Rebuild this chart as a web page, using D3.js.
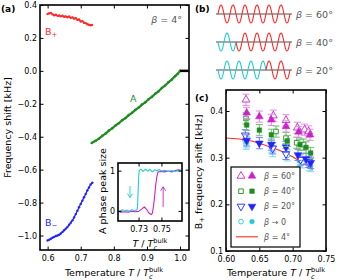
<!DOCTYPE html>
<html>
<head>
<meta charset="utf-8">
<script src="https://cdn.jsdelivr.net/npm/d3@7"></script>
<style>
  body { margin: 0; background: #fff; }
  text { font-family: "DejaVu Sans", sans-serif; }
</style>
</head>
<body>
<svg id="fig" width="338" height="280"></svg>
<script>
// ---- panel (a) data ----
const bPlusT = [0.600,0.605,0.610,0.615,0.620,0.625,0.630,0.635,0.640,0.645,0.650,0.655,0.660,0.665,0.670,0.675,0.680,0.685,0.690,0.695,0.700,0.705,0.710,0.715,0.720,0.725,0.730,0.734];
const bPlusV = [0.345,0.350,0.352,0.343,0.338,0.341,0.334,0.336,0.331,0.335,0.329,0.331,0.326,0.330,0.322,0.325,0.317,0.320,0.310,0.312,0.300,0.302,0.292,0.290,0.283,0.280,0.277,0.279];
const bMinusT = [0.600,0.605,0.610,0.615,0.620,0.625,0.630,0.635,0.640,0.645,0.650,0.655,0.660,0.665,0.670,0.675,0.680,0.685,0.690,0.695,0.700,0.705,0.710,0.715,0.720,0.725,0.730,0.735];
const bMinusV = [-1.030,-1.025,-1.020,-1.013,-1.008,-1.003,-1.000,-0.995,-0.988,-0.978,-0.968,-0.958,-0.948,-0.935,-0.922,-0.908,-0.890,-0.870,-0.850,-0.828,-0.808,-0.788,-0.768,-0.748,-0.726,-0.708,-0.690,-0.680];
const aPhaseT = [0.733,0.745,0.755,0.765,0.775,0.785,0.795,0.805,0.815,0.825,0.835,0.845,0.855,0.865,0.875,0.885,0.895,0.905,0.915,0.925,0.935,0.945,0.955,0.965,0.975,0.985,0.993,1.000];
const aPhaseV = [-0.438,-0.425,-0.412,-0.395,-0.381,-0.363,-0.349,-0.332,-0.318,-0.300,-0.287,-0.269,-0.255,-0.237,-0.223,-0.205,-0.191,-0.172,-0.158,-0.139,-0.124,-0.104,-0.089,-0.069,-0.053,-0.032,-0.018,0.000];
const plateauT = [1.000, 1.025];
const plateauV = [0.000, 0.000];
const xTicksA = [0.6, 0.7, 0.8, 0.9, 1.0];
const yTicksA = [0.4, 0.2, 0.0, -0.2, -0.4, -0.6, -0.8, -1.0];

// ---- inset data ----
const insetT_cyan = [0.712,0.714,0.716,0.718,0.720,0.722,0.724,0.726,0.728,0.729,0.7295,0.730,0.7305,0.732,0.734,0.736,0.738,0.740,0.742,0.744,0.746,0.748,0.750,0.753,0.756,0.759,0.762,0.765,0.768];
const insetV_cyan = [0.02,0.00,0.03,0.00,0.02,-0.01,0.03,0.01,0.02,0.05,0.40,0.80,1.00,1.04,0.98,1.04,0.99,1.03,0.97,1.02,1.00,1.03,0.99,1.01,0.98,1.00,0.98,1.00,1.00];
const insetT_mag = [0.712,0.715,0.718,0.721,0.724,0.727,0.730,0.733,0.735,0.737,0.739,0.741,0.742,0.743,0.744,0.745,0.746,0.747,0.750,0.753,0.756,0.759,0.762,0.765,0.768];
const insetV_mag = [-0.02,-0.03,-0.02,-0.03,-0.01,-0.02,-0.01,0.05,0.10,0.04,-0.05,-0.09,-0.06,0.10,0.35,0.65,0.85,0.97,0.98,0.97,0.99,0.97,1.00,1.02,1.00];
const xTicksInset = [0.73, 0.75];
const yTicksInset = [0, 1];
// arrows: [T, from, to]
const arrowCyan = [0.7225, 0.62, 0.33];
const arrowMag = [0.7515, 0.10, 0.60];

// ---- panel (b) ----
const waveBetas = ["60°", "40°", "20°"];
const waveCyanPeriods = [0, 1.5, 4];
const wavePeriods = 6;

// ---- panel (c) data: [T, shift] ----
const open60 = [[0.630,0.424],[0.671,0.390],[0.690,0.380],[0.707,0.364],[0.718,0.360],[0.724,0.356]];
const filled60 = [[0.631,0.396],[0.650,0.388],[0.668,0.381],[0.690,0.367],[0.709,0.355],[0.726,0.349]];
const open40 = [[0.630,0.384],[0.675,0.356],[0.690,0.342],[0.706,0.332],[0.716,0.328]];
const filled40 = [[0.631,0.370],[0.650,0.359],[0.668,0.349],[0.692,0.336],[0.711,0.328],[0.720,0.322],[0.727,0.310]];
const open20 = [[0.629,0.348],[0.670,0.320],[0.690,0.308],[0.712,0.296],[0.724,0.291]];
const filled20 = [[0.631,0.337],[0.650,0.331],[0.668,0.328],[0.690,0.323],[0.708,0.306],[0.720,0.297],[0.727,0.289]];
const open0 = [[0.630,0.330],[0.670,0.314],[0.692,0.305],[0.714,0.290],[0.725,0.284]];
const filled0 = [[0.631,0.333],[0.668,0.322],[0.710,0.293],[0.727,0.282]];
const errC = 0.012;
const beta4T = [0.60,0.62,0.64,0.66,0.68,0.70,0.71,0.72,0.73];
const beta4V = [0.342,0.340,0.335,0.326,0.316,0.302,0.293,0.284,0.274];
const xTicksC = [0.60, 0.65, 0.70, 0.75];
const yTicksC = [0.1, 0.2, 0.3, 0.4];

const RED = "#ff2a2a", BLUE = "#2222ff", GREEN = "#1f8c1f", CYAN = "#22cccc", MAG = "#cc22cc", GREY = "#555";

const svg = d3.select("#fig");

// inward ticks on all four sides + a thick frame
function frame(g, x, y, xt, yt, fx, fy, fs) {
  const [x0, x1] = x.range(), [y0, y1] = y.range();
  const tk = 3.5;
  const ax = [
    g.append("g").attr("transform", "translate(0," + y0 + ")")
      .call(d3.axisBottom(x).tickValues(xt).tickSize(-tk).tickPadding(5).tickFormat(fx)),
    g.append("g").attr("transform", "translate(0," + y1 + ")")
      .call(d3.axisTop(x).tickValues(xt).tickSize(-tk).tickFormat("")),
    g.append("g").attr("transform", "translate(" + x0 + ",0)")
      .call(d3.axisLeft(y).tickValues(yt).tickSize(-tk).tickPadding(3).tickFormat(fy)),
    g.append("g").attr("transform", "translate(" + x1 + ",0)")
      .call(d3.axisRight(y).tickValues(yt).tickSize(-tk).tickFormat(""))
  ];
  ax.forEach(a => {
    a.attr("font-size", fs).attr("font-family", "DejaVu Sans");
    a.select(".domain").remove();
    a.selectAll("line").attr("stroke", "#000").attr("stroke-width", 1);
  });
  g.append("rect")
    .attr("x", x0).attr("y", y1)
    .attr("width", x1 - x0).attr("height", y0 - y1)
    .attr("fill", "none").attr("stroke", "#000").attr("stroke-width", 1.6);
}

// "T / T_c^bulk"
function addTc(text, fs) {
  text.append("tspan").attr("font-style", "italic").text("T");
  text.append("tspan").text(" / ");
  text.append("tspan").attr("font-style", "italic").text("T");
  text.append("tspan").attr("font-style", "italic").attr("font-size", fs * 0.7).attr("dy", fs * 0.28).text("c");
  text.append("tspan").attr("font-size", fs * 0.7).attr("dx", -fs * 0.7 * 0.56).attr("dy", -fs * 0.7).text("bulk");
}

function betaText(g, x, y, rest, fs, anchor) {
  const t = g.append("text").attr("x", x).attr("y", y)
    .attr("font-size", fs).attr("fill", GREY).attr("text-anchor", anchor || "start");
  t.append("tspan").attr("font-style", "italic").text("β");
  t.append("tspan").text(rest);
  return t;
}

function drawCurve(g, x, y, T, V, color, w, dots) {
  const pts = T.map((t, i) => [x(t), y(V[i])]);
  g.append("path").attr("d", d3.line()(pts))
    .attr("fill", "none").attr("stroke", color).attr("stroke-width", w).attr("stroke-linejoin", "round");
  if (dots) {
    g.append("g").selectAll("circle").data(pts).enter().append("circle")
      .attr("cx", d => d[0]).attr("cy", d => d[1]).attr("r", dots).attr("fill", color);
  }
}

// ================= panel (a) =================
const xa = d3.scaleLinear().domain([0.577, 1.027]).range([40, 189]);
const ya = d3.scaleLinear().domain([-1.088, 0.4]).range([250, 5]);
const ga = svg.append("g");

drawCurve(ga, xa, ya, bPlusT, bPlusV, RED, 1.3, 1.2);
drawCurve(ga, xa, ya, bMinusT, bMinusV, BLUE, 1.3, 1.2);
drawCurve(ga, xa, ya, aPhaseT, aPhaseV, GREEN, 2.2, 1.3);
drawCurve(ga, xa, ya, plateauT, plateauV, "#000", 2.5, 0);

frame(ga, xa, ya, xTicksA, yTicksA, d3.format(".1f"), d3.format(".1f"), 8);

ga.append("text").attr("x", 1).attr("y", 12).attr("font-size", 9).attr("font-weight", "bold").text("(a)");
ga.append("text").attr("transform", "translate(11," + ((5 + 250) / 2) + ") rotate(-90)")
  .attr("text-anchor", "middle").attr("font-size", 9.5).text("Frequency shift [kHz]");
const xlA = ga.append("text").attr("x", 114).attr("y", 276).attr("text-anchor", "middle").attr("font-size", 9.5);
xlA.append("tspan").text("Temperature ");
addTc(xlA, 9.5);

betaText(ga, 182, 23, " = 4°", 9.5, "end");

const lbP = ga.append("text").attr("x", 45).attr("y", 35).attr("font-size", 9.5).attr("fill", RED);
lbP.append("tspan").text("B");
lbP.append("tspan").attr("font-size", 7).attr("dy", 2).text("+");
const lbM = ga.append("text").attr("x", 45).attr("y", 226).attr("font-size", 9.5).attr("fill", BLUE);
lbM.append("tspan").text("B");
lbM.append("tspan").attr("font-size", 7).attr("dy", 2).text("−");
ga.append("text").attr("x", 130).attr("y", 102).attr("font-size", 9.5).attr("fill", GREEN).text("A");

// ---- inset ----
const xi = d3.scaleLinear().domain([0.712, 0.768]).range([118, 182]);
const yi = d3.scaleLinear().domain([-0.25, 1.19]).range([221, 163]);
const gi = svg.append("g");
gi.append("rect").attr("x", 118).attr("y", 163).attr("width", 64).attr("height", 58).attr("fill", "#fff");
drawCurve(gi, xi, yi, insetT_mag, insetV_mag, MAG, 1.1, 0);
drawCurve(gi, xi, yi, insetT_cyan, insetV_cyan, CYAN, 1.1, 0);

[[arrowCyan, CYAN], [arrowMag, MAG]].forEach(([a, c]) => {
  const ax = xi(a[0]), y0 = yi(a[1]), y1 = yi(a[2]);
  const s = y1 > y0 ? -1 : 1;
  gi.append("path")
    .attr("d", "M" + ax + "," + y0 + "L" + ax + "," + y1 +
      "M" + (ax - 2.5) + "," + (y1 + s * 4) + "L" + ax + "," + y1 + "L" + (ax + 2.5) + "," + (y1 + s * 4))
    .attr("fill", "none").attr("stroke", c).attr("stroke-width", 0.9);
});

frame(gi, xi, yi, xTicksInset, yTicksInset, d3.format(".2f"), d3.format("d"), 8);
gi.append("text").attr("transform", "translate(106,191) rotate(-90)")
  .attr("text-anchor", "middle").attr("font-size", 9.5).text("A phase peak size");
const xlI = gi.append("text").attr("x", 150).attr("y", 247).attr("text-anchor", "middle").attr("font-size", 9.5);
addTc(xlI, 9.5);

// ================= panel (b) =================
const gb = svg.append("g");
gb.append("text").attr("x", 195).attr("y", 12).attr("font-size", 9).attr("font-weight", "bold").text("(b)");
const xw = d3.scaleLinear().domain([0, wavePeriods]).range([218, 290]);
const rowY = d3.scalePoint().domain(waveBetas).range([14, 70]);
const amp = 9;
waveBetas.forEach((b, r) => {
  const cy = rowY(b);
  gb.append("line").attr("x1", 216).attr("x2", 292).attr("y1", cy).attr("y2", cy)
    .attr("stroke", "#888").attr("stroke-width", 1.6);
  const cut = waveCyanPeriods[r];
  const n = 240;
  const cyanPts = [], redPts = [];
  for (let i = 0; i <= n; i++) {
    const p = wavePeriods * i / n;
    const s = Math.sin(2 * Math.PI * p);
    if (p <= cut) cyanPts.push([xw(p), cy + amp * s]);
    if (p >= cut) redPts.push([xw(p), cy - amp * s]);
  }
  if (cyanPts.length > 1) gb.append("path").attr("d", d3.line()(cyanPts)).attr("fill", "none").attr("stroke", CYAN).attr("stroke-width", 1.1);
  gb.append("path").attr("d", d3.line()(redPts)).attr("fill", "none").attr("stroke", RED).attr("stroke-width", 1.1);
  betaText(gb, 296, cy + 3.5, " = " + b, 9.5);
});

// ================= panel (c) =================
const xc = d3.scaleLinear().domain([0.6, 0.75]).range([226, 326]);
const yc = d3.scaleLinear().domain([0.1, 0.445]).range([251, 90]);
const gc = svg.append("g");

drawCurve(gc, xc, yc, beta4T, beta4V, RED, 1.1, 0);

const cSeries = [
  { rest: " = 60°", color: MAG, light: "#e28ae2", sym: d3.symbolTriangle, rot: 0, open: open60, filled: filled60 },
  { rest: " = 40°", color: GREEN, light: "#6cc06c", sym: d3.symbolSquare, rot: 0, open: open40, filled: filled40 },
  { rest: " = 20°", color: BLUE, light: "#7a7aff", sym: d3.symbolTriangle, rot: 180, open: open20, filled: filled20 },
  { rest: " → 0", color: CYAN, light: "#7ae0e0", sym: d3.symbolCircle, rot: 0, open: open0, filled: filled0 }
];
const symSize = s => s === d3.symbolCircle ? 18 : (s === d3.symbolSquare ? 21 : 26);

function marker(g, s, cx, cy, filled) {
  g.append("path")
    .attr("d", d3.symbol().type(s.sym).size(symSize(s.sym))())
    .attr("transform", "translate(" + cx + "," + cy + ") rotate(" + s.rot + ")")
    .attr("fill", filled ? s.color : "#fff")
    .attr("stroke", s.color).attr("stroke-width", filled ? 0.5 : 0.9);
}

cSeries.slice().reverse().forEach(s => {
  [["open", false], ["filled", true]].forEach(([key, filled]) => {
    const pts = s[key];
    const eb = gc.append("g").attr("stroke", s.light).attr("stroke-width", 1);
    pts.forEach(d => {
      const cx = xc(d[0]), y0 = yc(d[1] - errC), y1 = yc(d[1] + errC);
      eb.append("line").attr("x1", cx).attr("x2", cx).attr("y1", y0).attr("y2", y1);
      eb.append("line").attr("x1", cx - 3.5).attr("x2", cx + 3.5).attr("y1", y0).attr("y2", y0);
      eb.append("line").attr("x1", cx - 3.5).attr("x2", cx + 3.5).attr("y1", y1).attr("y2", y1);
    });
    pts.forEach(d => marker(gc, s, xc(d[0]), yc(d[1]), filled));
  });
});

frame(gc, xc, yc, xTicksC, yTicksC, d3.format(".2f"), d3.format(".1f"), 8);

gc.append("text").attr("x", 195).attr("y", 101).attr("font-size", 9).attr("font-weight", "bold").text("(c)");
const ylC = gc.append("text").attr("transform", "translate(202,172) rotate(-90)")
  .attr("text-anchor", "middle").attr("font-size", 9.5);
ylC.append("tspan").text("B");
ylC.append("tspan").attr("font-size", 7).attr("dy", 2).text("+");
ylC.append("tspan").attr("dy", -2).text(" frequency shift [kHz]");
const xlC = gc.append("text").attr("x", 276).attr("y", 276).attr("text-anchor", "middle").attr("font-size", 9.5);
xlC.append("tspan").text("Temperature ");
addTc(xlC, 9.5);

// legend
const lg = gc.append("g");
lg.append("rect").attr("x", 231).attr("y", 167).attr("width", 69).attr("height", 80)
  .attr("fill", "#fff").attr("stroke", "#000").attr("stroke-width", 1.2);
cSeries.forEach((s, i) => {
  const ly = 176 + i * 15.2;
  marker(lg, s, 241, ly, false);
  marker(lg, s, 252, ly, true);
  betaText(lg, 264, ly + 3, s.rest, 8);
});
const ly5 = 176 + 4 * 15.2;
lg.append("line").attr("x1", 236).attr("x2", 258).attr("y1", ly5).attr("y2", ly5).attr("stroke", RED).attr("stroke-width", 1.1);
betaText(lg, 264, ly5 + 3, " = 4°", 8);
</script>
</body>
</html>
